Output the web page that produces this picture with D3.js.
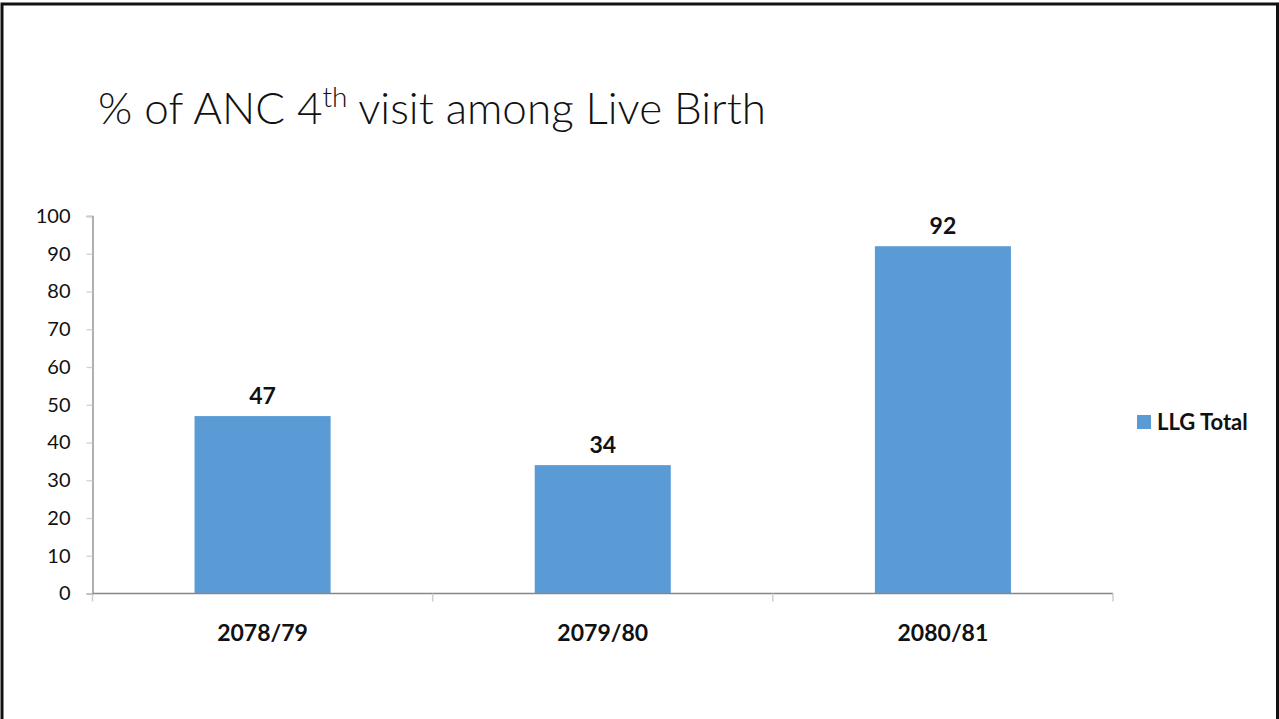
<!DOCTYPE html>
<html>
<head>
<meta charset="utf-8">
<script src="https://cdn.jsdelivr.net/npm/d3@7"></script>
<style>
  html, body { margin: 0; padding: 0; background: #fff; }
  svg { display: block; }
  text { font-family: Lato, "Open Sans", "Liberation Sans", sans-serif; }
</style>
</head>
<body>
<svg id="chart" width="1279" height="719"></svg>
<script>
// Chart data
const categories = ["2078/79", "2079/80", "2080/81"];
const seriesName = "LLG Total";
const values = [47, 34, 92];
const yTicks = [0, 10, 20, 30, 40, 50, 60, 70, 80, 90, 100];

const svg = d3.select("#chart");
const W = 1279, H = 719;
const barColor = "#5b9bd5";
const axisColor = "#868686";

// Slide frame (left, top, right edges)
svg.append("path")
  .attr("d", `M2,${H} V4 H1277.5 V${H}`)
  .attr("fill", "none")
  .attr("stroke", "#111")
  .attr("stroke-width", 3);

// Title with superscript
const title = svg.append("text")
  .attr("x", 98).attr("y", 124)
  .attr("font-size", 44)
  .attr("font-weight", 300)
  .attr("fill", "#111");
title.append("tspan").text("% of ANC 4");
title.append("tspan").text("th").attr("font-size", 28).attr("dy", -17);
title.append("tspan").text(" visit among Live Birth").attr("dy", 17);

// Plot area
const plot = { left: 92.5, right: 1113, top: 216, bottom: 593.5 };

const x = d3.scaleBand()
  .domain(categories)
  .range([plot.left, plot.right])
  .padding(0);

const y = d3.scaleLinear()
  .domain([0, 100])
  .range([plot.bottom, plot.top]);

const barW = x.bandwidth() * 0.4;

// Bars
svg.append("g").selectAll("rect")
  .data(values)
  .join("rect")
  .attr("x", (d, i) => x(categories[i]) + (x.bandwidth() - barW) / 2)
  .attr("y", d => y(d))
  .attr("width", barW)
  .attr("height", d => y(0) - y(d))
  .attr("fill", barColor);

// Value labels
svg.append("g").selectAll("text")
  .data(values)
  .join("text")
  .attr("x", (d, i) => x(categories[i]) + x.bandwidth() / 2)
  .attr("y", d => y(d) - 12)
  .attr("text-anchor", "middle")
  .attr("font-size", 23)
  .attr("font-weight", 700)
  .attr("fill", "#111")
  .text(d => d);

// Y axis
const yAxis = svg.append("g")
  .attr("transform", `translate(${plot.left},0)`)
  .call(d3.axisLeft(y).tickValues(yTicks).tickSize(6).tickPadding(16).tickFormat(d3.format("d")));
yAxis.select(".domain").attr("stroke", axisColor).attr("stroke-width", 1.3);
yAxis.selectAll(".tick line").attr("stroke", "#d0d0d0").attr("stroke-width", 1.3);
yAxis.selectAll(".tick text")
  .attr("font-size", 20)
  .attr("fill", "#111")
  .attr("font-family", "Lato, 'Open Sans', sans-serif");

// X axis with boundary ticks between categories
const xAxisG = svg.append("g").attr("transform", `translate(0,${plot.bottom})`);
xAxisG.append("line")
  .attr("x1", plot.left).attr("x2", plot.right)
  .attr("stroke", axisColor).attr("stroke-width", 1.5);
const boundaries = categories.map(c => x(c)).concat([plot.right]);
xAxisG.selectAll("line.tick")
  .data(boundaries)
  .join("line")
  .attr("class", "tick")
  .attr("x1", d => d).attr("x2", d => d)
  .attr("y1", 0).attr("y2", 8)
  .attr("stroke", "#cfcfcf").attr("stroke-width", 1.5);
xAxisG.selectAll("text")
  .data(categories)
  .join("text")
  .attr("x", d => x(d) + x.bandwidth() / 2)
  .attr("y", 47)
  .attr("text-anchor", "middle")
  .attr("font-size", 23)
  .attr("font-weight", 700)
  .attr("fill", "#111")
  .text(d => d);

// Legend
const legend = svg.append("g").attr("transform", "translate(1137,415)");
legend.append("rect").attr("width", 14).attr("height", 14).attr("fill", barColor);
legend.append("text")
  .attr("x", 20).attr("y", 15)
  .attr("font-size", 22)
  .attr("font-weight", 700)
  .attr("fill", "#111")
  .text(seriesName);
</script>
</body>
</html>
